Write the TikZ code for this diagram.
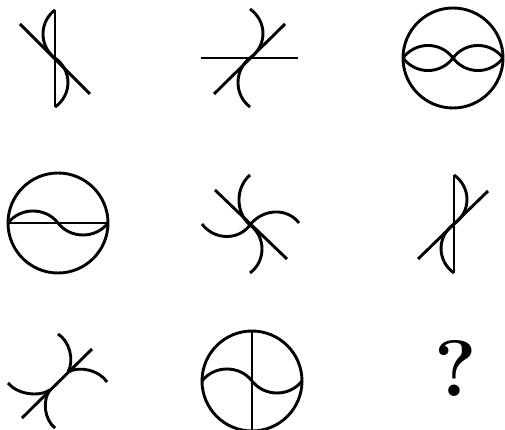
\documentclass[tikz,border=0pt]{standalone}
\begin{document}
\begin{tikzpicture}[x=1pt,y=-1pt,line width=2.9pt,
  glyph/.style={draw=black,line width=2.9pt},
  ring/.style={draw=black,line width=2.9pt}]
\useasboundingbox (0,0) rectangle (505,430);
% Figure 1
\draw[glyph] (55,10) -- (55,107);
\draw[glyph] (20,24) -- (90,94);
\draw[glyph] (55,10) .. controls (39,22) and (39,46) .. (55,58)
  .. controls (72.3,70.25) and (72.3,94.75) .. (55,107);
% Figure 2
\draw[glyph] (201,58) -- (298,58);
\draw[glyph] (214,94) -- (285,24);
\draw[glyph] (250,9) .. controls (267.3,21.25) and (267.3,45.75) .. (250,58)
  .. controls (234,70.25) and (234,94.75) .. (250,107);
% Figure 3
\draw[ring] (453,58) circle[radius=50pt];
\draw[glyph] (403,58) .. controls (415.5,41.3) and (440.5,41.3) .. (453,58)
  .. controls (465.5,74.7) and (490.5,74.7) .. (503,58);
\draw[glyph] (403,58) .. controls (415.5,74.7) and (440.5,74.7) .. (453,58)
  .. controls (465.5,41.3) and (490.5,41.3) .. (503,58);
% Figure 4
\draw[ring] (58,223) circle[radius=50pt];
\draw[glyph] (8,223) -- (108,223);
\draw[glyph] (8,223) .. controls (20.5,207) and (45.5,207) .. (58,223)
  .. controls (70.5,239) and (95.5,239) .. (108,223);
% Figure 5
\draw[glyph] (215,190) -- (287,259);
\draw[glyph] (250,175) .. controls (235.3,187.5) and (235.3,212.5) .. (250,225)
  .. controls (266,237) and (266,261) .. (250,273);
\draw[glyph] (202,224) .. controls (214,240) and (238,241) .. (250,225)
  .. controls (262.25,209) and (286.75,207) .. (299,223);
% Figure 6
\draw[glyph] (454,175) -- (454,273);
\draw[glyph] (418,259) -- (488,191);
\draw[glyph] (454,175) .. controls (471.3,187.25) and (471.3,211.75) .. (454,224)
  .. controls (436.7,236.25) and (436.7,260.75) .. (454,273);
% Figure 7
\draw[glyph] (22,418) -- (92,349);
\draw[glyph] (58,334) .. controls (69.5,341.1) and (74.5,360.1) .. (68,372);
\draw[glyph] (68,372) .. controls (80.1,365.5) and (99.6,370.5) .. (107,382);
\draw[glyph] (8,383) .. controls (17,394) and (38,397.5) .. (50,390);
\draw[glyph] (50,390) .. controls (42,400.7) and (44.5,419.7) .. (55,428);
% Figure 8
\draw[ring] (252,381) circle[radius=50pt];
\draw[glyph] (252,331) -- (252,432);
\draw[glyph] (202,381) .. controls (214.5,365) and (239.5,365) .. (252,381)
  .. controls (264.5,397) and (289.5,397) .. (302,381);
% Question mark
\node[inner sep=0pt,font=\bfseries\fontsize{80}{80}\selectfont] (q) at (456,368.5) {?};
\end{tikzpicture}
\end{document}
